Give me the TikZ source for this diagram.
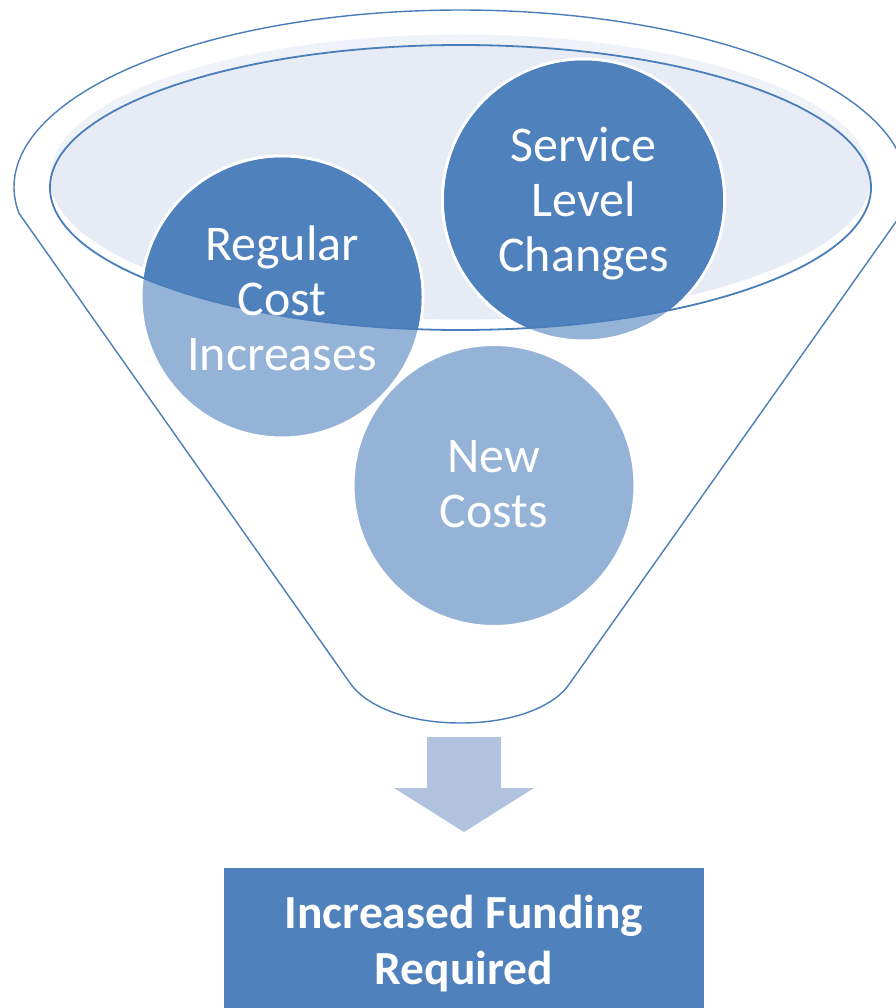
\documentclass[tikz,border=0pt]{standalone}
\usepackage{fontspec}
\setmainfont{Carlito}
\usetikzlibrary{calc}
\definecolor{dkblue}{HTML}{4F81BD}
\definecolor{ltblue}{HTML}{95B3D7}
\definecolor{rimfill}{HTML}{E6EBF5}
\definecolor{bandfill}{HTML}{F0F2F9}
\definecolor{arrowcol}{HTML}{B0C2DE}
\definecolor{linecol}{HTML}{4A7EBB}
\begin{document}
\begin{tikzpicture}[x=1pt,y=-1pt,
  funnelline/.style={draw=linecol,line width=1.4pt,line join=round},
  rimline/.style={draw=linecol,line width=1.8pt},
  bubble/.style={circle,minimum size=282pt,inner sep=0pt,fill=ltblue,draw=white,line width=3pt},
  bubbletext/.style={text=white,align=center,font=\fontsize{50}{55}\selectfont},
  fundbox/.style={rectangle,minimum width=480pt,minimum height=140pt,inner sep=0pt,fill=dkblue},
  fundtext/.style={text=white,align=center,font=\bfseries\fontsize{47.5}{56}\selectfont}]
\useasboundingbox (0,0) rectangle (895,1008);
\fill[white] (0,0) rectangle (895,1008);
% outer funnel outline
\draw[funnelline] plot[domain=171.5:368.5,samples=200] ({460.5+446.5*cos(\x)},{187+177*sin(\x)})
  -- (570,683) .. controls (556,705) and (516,723) .. (460.5,723)
  .. controls (405,723) and (365,705) .. (350,683) -- cycle;
% rim fill
\fill[bandfill] (460.5,177) ellipse[x radius=410.5,y radius=142.5];
\begin{scope}
  \clip (460.5,177) ellipse[x radius=410.5,y radius=142.5];
  \fill[rimfill] (460.5,187.5) ellipse[x radius=410.5,y radius=142.5];
\end{scope}
% bubbles
\node[bubble] (reg) at (282,297) {};
\node[bubble] (svc) at (583.5,200) {};
\node[bubble] (new) at (494,485.5) {};
\begin{scope}
  \clip (460.5,187.5) ellipse[x radius=410.5,y radius=142.5];
  \fill[dkblue] (reg.center) circle[radius=139.5];
  \fill[dkblue] (svc.center) circle[radius=139.5];
\end{scope}
\draw[rimline] (460.5,187.5) ellipse[x radius=410.5,y radius=142.5];
\node[bubbletext] at ($(reg.center)+(0,1)$) {Regular\\Cost\\Increases};
\node[bubbletext] at ($(svc.center)+(0,4)$) {Service\\Level\\Changes};
\node[bubbletext] at ($(new.center)+(0,-1)$) {New\\Costs};
% arrow
\fill[arrowcol] (427,737) -- (501,737) -- (501,788) -- (534,788) -- (464,832) -- (394,788) -- (427,788) -- cycle;
% result box
\node[fundbox] (fund) at (464,938) {};
\node[fundtext] at ($(fund.center)+(0,6)$) {Increased Funding\\Required};
\end{tikzpicture}
\end{document}
